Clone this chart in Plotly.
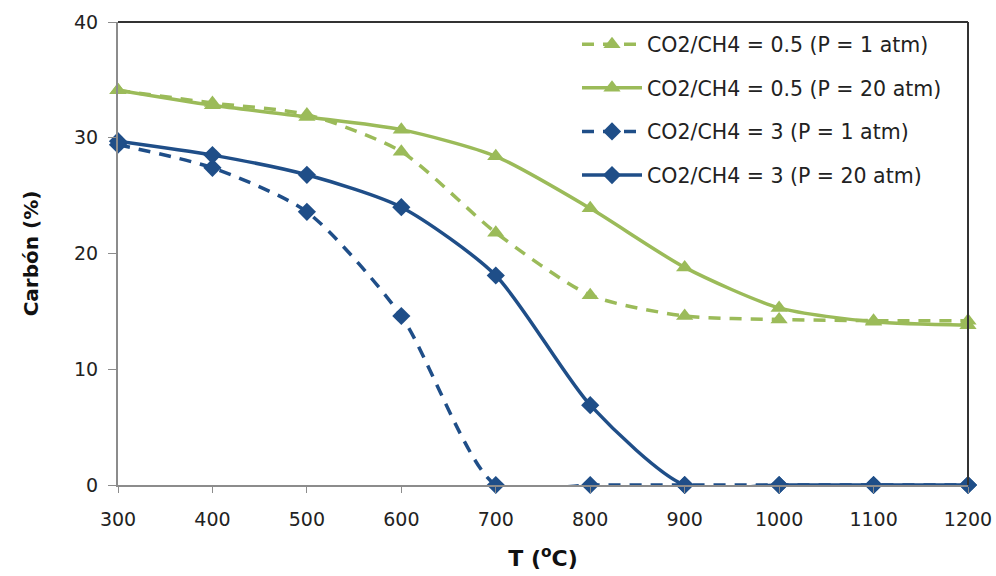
import plotly.graph_objects as go

# Temperature (°C)
temperature = [300, 400, 500, 600, 700, 800, 900, 1000, 1100, 1200]

# Carbon yield (%) for each CO2/CH4 ratio and pressure
ratio05_p1 = [34.1, 33.0, 32.0, 28.8, 21.8, 16.4, 14.6, 14.3, 14.2, 14.2]
ratio05_p20 = [34.1, 32.8, 31.8, 30.7, 28.4, 23.9, 18.8, 15.3, 14.1, 13.8]
ratio3_p1 = [29.4, 27.4, 23.6, 14.6, 0.0, 0.0, 0.0, 0.0, 0.0, 0.0]
ratio3_p20 = [29.7, 28.5, 26.8, 24.0, 18.1, 6.9, 0.0, 0.0, 0.0, 0.0]

names = [
    "CO2/CH4 = 0.5 (P = 1 atm)",
    "CO2/CH4 = 0.5 (P = 20 atm)",
    "CO2/CH4 = 3 (P = 1 atm)",
    "CO2/CH4 = 3 (P = 20 atm)",
]

GREEN = "#9BBB59"
BLUE = "#1F4E88"
FONT = "DejaVu Sans"

series = [
    (names[0], ratio05_p1, GREEN, "12px,9px", "triangle-up", 15),
    (names[1], ratio05_p20, GREEN, "solid", "triangle-up", 15),
    (names[2], ratio3_p1, BLUE, "12px,9px", "diamond", 14),
    (names[3], ratio3_p20, BLUE, "solid", "diamond", 14),
]

fig = go.Figure()
for i, (name, ys, color, dash, symbol, size) in enumerate(series):
    fig.add_trace(go.Scatter(
        x=temperature, y=ys, name=name, mode="lines+markers",
        legendgroup=f"g{i}",
        line=dict(color=color, width=3.5, dash=dash, shape="spline", smoothing=0.7),
        marker=dict(symbol=symbol, size=size, color=color),
        cliponaxis=False,
    ))

fig.update_layout(
    width=996, height=576,
    margin=dict(l=118, r=28, t=22, b=91, autoexpand=False),
    paper_bgcolor="white", plot_bgcolor="white",
    font=dict(family=FONT, size=18, color="#222222"),
    showlegend=True,
    legend=dict(
        x=0.54, y=0.995, xanchor="left", yanchor="top",
        bgcolor="rgba(0,0,0,0)", borderwidth=0,
        font=dict(family=FONT, size=20.5, color="#222222"),
        tracegroupgap=14, itemwidth=60,
    ),
    xaxis=dict(
        range=[300, 1200], tickmode="array", automargin=False,
        tickvals=temperature, ticktext=[str(t) for t in temperature],
        showgrid=False, zeroline=False,
        showline=True, linecolor="#8C8C8C", linewidth=2,
        ticks="outside", ticklen=6, tickcolor="#8C8C8C",
        ticklabelstandoff=10,
        tickfont=dict(family=FONT, size=19, color="#222222"),
        title=dict(text="<b>T (<sup>o</sup>C)</b>", font=dict(family=FONT, size=22, color="#111111"), standoff=22),
    ),
    yaxis=dict(
        range=[0, 40], tickmode="array", tickvals=[0, 10, 20, 30, 40], automargin=False,
        showgrid=False, zeroline=False,
        showline=True, linecolor="#8C8C8C", linewidth=2,
        ticks="outside", ticklen=8, tickcolor="#8C8C8C",
        ticklabelstandoff=6,
        tickfont=dict(family=FONT, size=19, color="#222222"),
        title=dict(text="<b>Carbón (%)</b>", font=dict(family=FONT, size=20, color="#111111"), standoff=30),
    ),
)

# Dark frame on top and right edges of the plot area
fig.add_shape(type="line", xref="paper", yref="paper", x0=0, x1=1, y0=1, y1=1,
              line=dict(color="#333333", width=2))
fig.add_shape(type="line", xref="paper", yref="paper", x0=1, x1=1, y0=0, y1=1,
              line=dict(color="#333333", width=2))

fig.write_html("out.html")
